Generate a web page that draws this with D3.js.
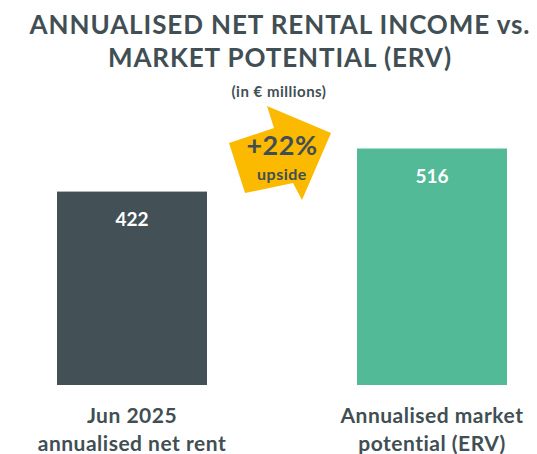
<!DOCTYPE html>
<html>
<head>
<meta charset="utf-8">
<script src="https://cdn.jsdelivr.net/npm/d3@7.9.0/dist/d3.min.js"></script>
<style>
  html, body { margin: 0; padding: 0; background: #fff; }
  svg { display: block; font-family: Lato, "Open Sans", sans-serif; }
</style>
</head>
<body>
<svg id="chart" width="537" height="454"></svg>
<script>
const categories = ['Jun 2025|annualised net rent', 'Annualised market|potential (ERV)'];
const values = [422, 516];
const colors = ['#435157', '#52BA97'];
const titleLines = ['ANNUALISED NET RENTAL INCOME vs.', 'MARKET POTENTIAL (ERV)'];
const subtitle = '(in € millions)';

const textColor = '#414F54';
const svg = d3.select('#chart');

const x = d3.scaleBand()
  .domain(categories)
  .range([57, 507])
  .paddingInner(0.5)
  .paddingOuter(0);

const y = d3.scaleLinear()
  .domain([0, 600])
  .range([385, 110]);

// title
svg.selectAll('text.title')
  .data(titleLines)
  .join('text')
  .attr('class', 'title')
  .attr('x', 280)
  .attr('y', (_, i) => 34 + i * 33)
  .attr('text-anchor', 'middle')
  .attr('font-size', 26)
  .attr('font-weight', 700)
  .attr('letter-spacing', 0.9)
  .attr('fill', textColor)
  .text(d => d);

svg.append('text')
  .attr('x', 279)
  .attr('y', 97)
  .attr('text-anchor', 'middle')
  .attr('font-size', 15)
  .attr('font-weight', 700)
  .attr('letter-spacing', 0.5)
  .attr('fill', textColor)
  .text(subtitle);

// bars
svg.selectAll('rect.bar')
  .data(values)
  .join('rect')
  .attr('class', 'bar')
  .attr('x', (_, i) => x(categories[i]))
  .attr('width', x.bandwidth())
  .attr('y', d => y(d))
  .attr('height', d => y(0) - y(d))
  .attr('fill', (_, i) => colors[i]);

svg.selectAll('text.value')
  .data(values)
  .join('text')
  .attr('class', 'value')
  .attr('x', (_, i) => x(categories[i]) + x.bandwidth() / 2)
  .attr('y', d => y(d) + 34)
  .attr('text-anchor', 'middle')
  .attr('font-size', 19)
  .attr('font-weight', 700)
  .attr('fill', '#fff')
  .text(d => d);

// category labels
categories.forEach((c, i) => {
  const cx = x(c) + x.bandwidth() / 2;
  const t = svg.append('text')
    .attr('y', 423)
    .attr('text-anchor', 'middle')
    .attr('font-size', 21)
    .attr('font-weight', 700)
    .attr('letter-spacing', 0.5)
    .attr('fill', textColor);
  c.split('|').forEach((line, j) => {
    t.append('tspan')
      .attr('x', cx)
      .attr('dy', j === 0 ? 0 : 28)
      .text(line);
  });
});

// upside arrow
const mid = (x(categories[0]) + x(categories[1]) + x.bandwidth()) / 2;
const arrowShape = [
  [-53, -7], [-8, -22], [-15, -44], [49, -17], [20, 50], [11, 33], [-37, 43]
];
const g = svg.append('g').attr('transform', `translate(${mid},150)`);
g.append('polygon')
  .attr('points', arrowShape.map(p => p.join(',')).join(' '))
  .attr('fill', '#FBB900');

const upside = Math.round((values[1] / values[0] - 1) * 100);
g.append('text')
  .attr('x', 0)
  .attr('y', 5)
  .attr('text-anchor', 'middle')
  .attr('font-size', 27)
  .attr('font-weight', 700)
  .attr('letter-spacing', 0.5)
  .attr('fill', textColor)
  .text(`+${upside}%`);
g.append('text')
  .attr('x', 0)
  .attr('y', 30)
  .attr('text-anchor', 'middle')
  .attr('font-size', 16)
  .attr('font-weight', 700)
  .attr('letter-spacing', 0.5)
  .attr('fill', textColor)
  .text('upside');
</script>
</body>
</html>
